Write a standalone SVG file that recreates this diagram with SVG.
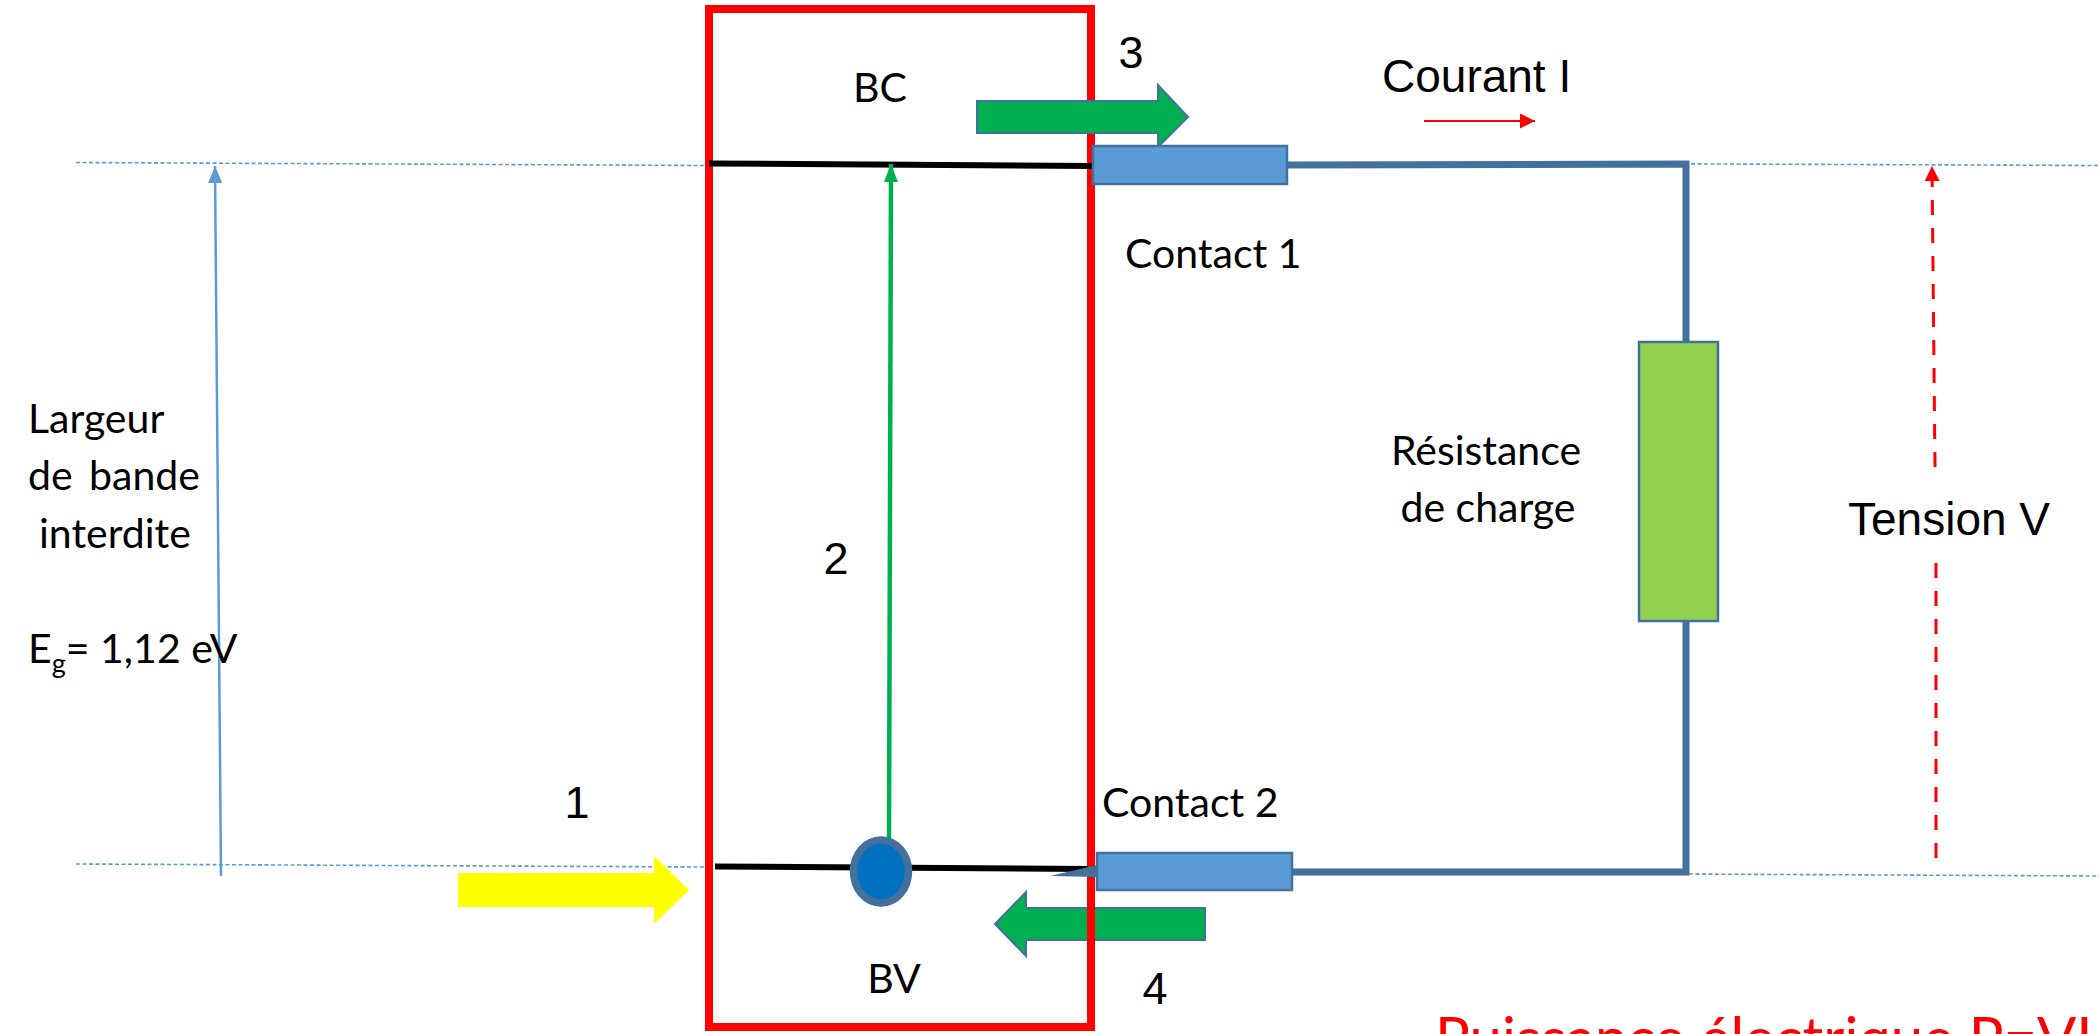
<svg xmlns="http://www.w3.org/2000/svg" width="2099" height="1034" viewBox="0 0 2099 1034">
<style>
.cal{font-family:Lato,"Open Sans","Liberation Sans",sans-serif;font-size:41px;fill:#000}
.ari{font-family:"Liberation Sans",Arial,sans-serif;font-size:46px;fill:#000}
.num{font-family:"Liberation Sans",Arial,sans-serif;font-size:45px;fill:#000;text-anchor:middle}
.dot{stroke:#5B9BD5;stroke-width:1.6;stroke-dasharray:4 2.5;fill:none}
.wire{stroke:#41719C;stroke-width:7;fill:none}
.band{stroke:#000;stroke-width:6;fill:none}
.garrow{fill:#00B050;stroke:#41719C;stroke-width:2}
.contact{fill:#5B9BD5;stroke:#41719C;stroke-width:2.5}
</style>
<defs>
<marker id="hBlue" markerUnits="userSpaceOnUse" markerWidth="18" markerHeight="14" refX="17" refY="7" orient="auto"><path d="M0,0 L17,7 L0,14 z" fill="#5B9BD5"/></marker>
<marker id="hGreen" markerUnits="userSpaceOnUse" markerWidth="19" markerHeight="14" refX="18" refY="7" orient="auto"><path d="M0,0 L18,7 L0,14 z" fill="#00B050"/></marker>
<marker id="hRed" markerUnits="userSpaceOnUse" markerWidth="16" markerHeight="15" refX="15" refY="7.5" orient="auto"><path d="M0,0 L15,7.5 L0,15 z" fill="#FF0000"/></marker>
</defs>
<rect width="2099" height="1034" fill="#fff"/>

<g id="reference-lines">
<line class="dot" x1="76" y1="162.5" x2="705" y2="165.5"/>
<line class="dot" x1="1470" y1="163" x2="2099" y2="165.5"/>
<line class="dot" x1="76" y1="864" x2="705" y2="867"/>
<line class="dot" x1="1468" y1="873" x2="2099" y2="876"/>
</g>

<g id="connectors">
<path class="wire" d="M1288,165 L1686,164 L1686,872 L1292,872"/>
<line x1="221" y1="876" x2="215" y2="166" stroke="#5B9BD5" stroke-width="2.5" marker-end="url(#hBlue)"/>
<line x1="1424" y1="121" x2="1535" y2="121" stroke="#FF0000" stroke-width="2" marker-end="url(#hRed)"/>
<line x1="1935" y1="467" x2="1932" y2="166" stroke="#FF0000" stroke-width="3" stroke-dasharray="15 13" marker-end="url(#hRed)"/>
<line x1="1936" y1="563" x2="1936" y2="858" stroke="#FF0000" stroke-width="3" stroke-dasharray="15 13"/>
<polygon id="arrow4" class="garrow" points="1205,908 1026,908 1026,892 995,924 1026,956 1026,940 1205,940"/>
</g>

<g id="cell">
<rect x="709" y="9" width="382" height="1018" fill="none" stroke="#FF0000" stroke-width="8"/>
</g>

<g id="bc-band"><line class="band" x1="709" y1="163.5" x2="1092" y2="166"/></g>
<g id="bv-band"><line class="band" x1="715" y1="866.5" x2="1088" y2="869" stroke-width="5.5"/></g>

<g id="transition">
<line x1="889" y1="842" x2="891" y2="164" stroke="#00B050" stroke-width="4.5" marker-end="url(#hGreen)"/>
</g>

<g id="electron">
<ellipse cx="881" cy="871.5" rx="27.5" ry="31.5" fill="#0070C0" stroke="#41719C" stroke-width="7.5"/>
</g>

<g id="photon">
<polygon points="458,873 654,873 654,856 689,890 654,924 654,907 458,907" fill="#FFFF00"/>
</g>

<g id="arrow3">
<polygon class="garrow" points="977,101 1158,101 1158,85 1188,117 1158,147 1158,133 977,133"/>
</g>

<g id="contact1">
<rect class="contact" x="1093" y="146" width="194" height="38"/>
</g>
<g id="contact2">
<polygon points="1050,876 1097,865 1097,877" fill="#41719C"/>
<rect class="contact" x="1097" y="853" width="195" height="37"/>
</g>

<g id="resistor">
<rect x="1639" y="342" width="79" height="279" fill="#92D050" stroke="#41719C" stroke-width="2.5"/>
</g>

<g id="labels">
<text class="cal" x="880" y="102" text-anchor="middle">BC</text>
<text class="cal" x="894" y="993" text-anchor="middle">BV</text>
<text class="cal" x="1125" y="268">Contact 1</text>
<text class="cal" x="1102" y="817">Contact 2</text>
<text class="cal" x="1486" y="465" text-anchor="middle">Résistance</text>
<text class="cal" x="1488" y="522" text-anchor="middle">de charge</text>
<text class="cal" x="28" y="433">Largeur</text>
<text class="cal" x="28" y="490" word-spacing="6">de bande</text>
<text class="cal" x="39" y="548">interdite</text>
<text class="cal" x="28" y="663">E<tspan font-size="27" dy="10">g</tspan><tspan dy="-10">= 1,12 eV</tspan></text>
<text class="ari" x="1382" y="92">Courant I</text>
<text class="ari" x="1848" y="535">Tension V</text>
<text class="num" x="577" y="818">1</text>
<text class="num" x="836" y="574">2</text>
<text class="num" x="1131" y="68">3</text>
<text class="num" x="1155" y="1004">4</text>
<text x="1435" y="1059" font-family="Lato,'Open Sans','Liberation Sans',sans-serif" font-size="58" fill="#FF0000">Puissance électrique P=VI</text>
</g>
</svg>
